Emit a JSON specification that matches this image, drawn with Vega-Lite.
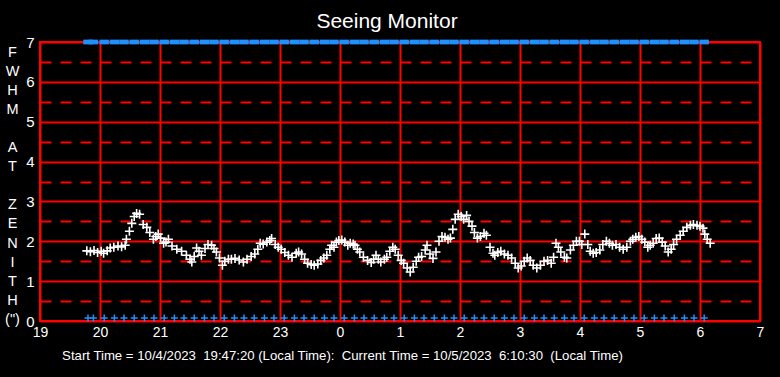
{
  "$schema": "https://vega.github.io/schema/vega-lite/v6.json",
  "width": 720,
  "height": 279,
  "autosize": {"type": "none"},
  "padding": {"left": 40, "top": 42, "right": 20, "bottom": 56},
  "background": "#000000",
  "config": {"view": {"stroke": "#ff0000", "strokeWidth": 2}, "font": "Liberation Sans"},
  "title": {"text": "Seeing Monitor", "color": "white", "fontSize": 21, "font": "Liberation Sans", "fontWeight": "normal", "anchor": "middle", "dx": -13, "dy": 30, "offset": 12, "baseline": "bottom"},
  "datasets": {
    "seeing": [
      {"t":19.78,"fwhm":1.76},{"t":19.84,"fwhm":1.74},{"t":19.90,"fwhm":1.77},{"t":19.96,"fwhm":1.72},{"t":20.02,"fwhm":1.75},
      {"t":20.06,"fwhm":1.70},{"t":20.12,"fwhm":1.76},{"t":20.17,"fwhm":1.83},{"t":20.23,"fwhm":1.85},{"t":20.30,"fwhm":1.88},
      {"t":20.36,"fwhm":1.86},{"t":20.42,"fwhm":1.90},{"t":20.44,"fwhm":2.05},{"t":20.49,"fwhm":2.25},{"t":20.53,"fwhm":2.45},
      {"t":20.57,"fwhm":2.62},{"t":20.61,"fwhm":2.70},{"t":20.66,"fwhm":2.68},{"t":20.72,"fwhm":2.42},{"t":20.78,"fwhm":2.35},
      {"t":20.83,"fwhm":2.22},{"t":20.89,"fwhm":2.05},{"t":20.93,"fwhm":2.12},{"t":20.97,"fwhm":2.18},{"t":21.01,"fwhm":2.08},
      {"t":21.06,"fwhm":1.95},{"t":21.10,"fwhm":1.98},{"t":21.14,"fwhm":2.05},{"t":21.20,"fwhm":1.88},{"t":21.28,"fwhm":1.80},
      {"t":21.36,"fwhm":1.75},{"t":21.44,"fwhm":1.65},{"t":21.50,"fwhm":1.55},{"t":21.53,"fwhm":1.48},{"t":21.57,"fwhm":1.62},
      {"t":21.61,"fwhm":1.83},{"t":21.65,"fwhm":1.75},{"t":21.69,"fwhm":1.65},{"t":21.75,"fwhm":1.82},{"t":21.80,"fwhm":1.92},
      {"t":21.86,"fwhm":1.90},{"t":21.90,"fwhm":1.82},{"t":21.94,"fwhm":1.73},{"t":21.99,"fwhm":1.58},{"t":22.04,"fwhm":1.40},
      {"t":22.08,"fwhm":1.50},{"t":22.14,"fwhm":1.55},{"t":22.19,"fwhm":1.55},{"t":22.25,"fwhm":1.57},{"t":22.32,"fwhm":1.53},
      {"t":22.39,"fwhm":1.48},{"t":22.45,"fwhm":1.55},{"t":22.52,"fwhm":1.62},{"t":22.58,"fwhm":1.68},{"t":22.63,"fwhm":1.80},
      {"t":22.67,"fwhm":1.95},{"t":22.72,"fwhm":1.93},{"t":22.78,"fwhm":1.98},{"t":22.83,"fwhm":2.02},{"t":22.86,"fwhm":2.07},
      {"t":22.92,"fwhm":1.92},{"t":22.97,"fwhm":1.85},{"t":23.02,"fwhm":1.80},{"t":23.08,"fwhm":1.72},{"t":23.14,"fwhm":1.65},
      {"t":23.20,"fwhm":1.60},{"t":23.27,"fwhm":1.70},{"t":23.31,"fwhm":1.73},{"t":23.36,"fwhm":1.68},{"t":23.41,"fwhm":1.55},
      {"t":23.46,"fwhm":1.45},{"t":23.52,"fwhm":1.42},{"t":23.57,"fwhm":1.40},{"t":23.63,"fwhm":1.43},{"t":23.68,"fwhm":1.52},
      {"t":23.73,"fwhm":1.58},{"t":23.78,"fwhm":1.65},{"t":23.83,"fwhm":1.80},{"t":23.86,"fwhm":1.90},{"t":23.90,"fwhm":1.85},
      {"t":23.94,"fwhm":1.98},{"t":23.98,"fwhm":2.02},{"t":24.03,"fwhm":2.03},{"t":24.08,"fwhm":1.98},{"t":24.13,"fwhm":1.90},
      {"t":24.17,"fwhm":1.95},{"t":24.22,"fwhm":1.93},{"t":24.25,"fwhm":1.90},{"t":24.29,"fwhm":1.80},{"t":24.33,"fwhm":1.73},
      {"t":24.39,"fwhm":1.60},{"t":24.46,"fwhm":1.52},{"t":24.52,"fwhm":1.47},{"t":24.56,"fwhm":1.55},{"t":24.60,"fwhm":1.65},
      {"t":24.64,"fwhm":1.55},{"t":24.68,"fwhm":1.48},{"t":24.74,"fwhm":1.55},{"t":24.78,"fwhm":1.60},{"t":24.83,"fwhm":1.75},
      {"t":24.88,"fwhm":1.85},{"t":24.92,"fwhm":1.80},{"t":24.97,"fwhm":1.65},{"t":25.02,"fwhm":1.52},{"t":25.06,"fwhm":1.45},
      {"t":25.12,"fwhm":1.33},{"t":25.17,"fwhm":1.23},{"t":25.22,"fwhm":1.35},{"t":25.27,"fwhm":1.50},{"t":25.31,"fwhm":1.60},
      {"t":25.36,"fwhm":1.62},{"t":25.42,"fwhm":1.78},{"t":25.45,"fwhm":1.90},{"t":25.50,"fwhm":1.68},{"t":25.55,"fwhm":1.57},
      {"t":25.60,"fwhm":1.73},{"t":25.65,"fwhm":2.00},{"t":25.70,"fwhm":2.12},{"t":25.75,"fwhm":2.10},{"t":25.80,"fwhm":2.05},
      {"t":25.84,"fwhm":2.08},{"t":25.88,"fwhm":2.30},{"t":25.92,"fwhm":2.55},{"t":25.97,"fwhm":2.68},{"t":26.02,"fwhm":2.62},
      {"t":26.06,"fwhm":2.55},{"t":26.11,"fwhm":2.65},{"t":26.15,"fwhm":2.50},{"t":26.20,"fwhm":2.38},{"t":26.24,"fwhm":2.22},
      {"t":26.29,"fwhm":2.08},{"t":26.34,"fwhm":2.12},{"t":26.40,"fwhm":2.20},{"t":26.44,"fwhm":2.15},{"t":26.50,"fwhm":1.85},
      {"t":26.55,"fwhm":1.70},{"t":26.58,"fwhm":1.65},{"t":26.63,"fwhm":1.72},{"t":26.68,"fwhm":1.75},{"t":26.74,"fwhm":1.68},
      {"t":26.80,"fwhm":1.65},{"t":26.86,"fwhm":1.58},{"t":26.92,"fwhm":1.45},{"t":26.97,"fwhm":1.33},{"t":27.02,"fwhm":1.38},
      {"t":27.07,"fwhm":1.50},{"t":27.12,"fwhm":1.58},{"t":27.17,"fwhm":1.52},{"t":27.22,"fwhm":1.40},{"t":27.28,"fwhm":1.33},
      {"t":27.34,"fwhm":1.40},{"t":27.40,"fwhm":1.50},{"t":27.46,"fwhm":1.52},{"t":27.52,"fwhm":1.45},{"t":27.56,"fwhm":1.60},
      {"t":27.60,"fwhm":1.95},{"t":27.64,"fwhm":1.85},{"t":27.68,"fwhm":1.73},{"t":27.74,"fwhm":1.60},{"t":27.78,"fwhm":1.58},
      {"t":27.84,"fwhm":1.78},{"t":27.89,"fwhm":1.90},{"t":27.94,"fwhm":2.00},{"t":27.99,"fwhm":2.00},{"t":28.03,"fwhm":1.92},
      {"t":28.08,"fwhm":2.18},{"t":28.13,"fwhm":1.92},{"t":28.17,"fwhm":1.75},{"t":28.22,"fwhm":1.70},{"t":28.27,"fwhm":1.72},
      {"t":28.33,"fwhm":1.78},{"t":28.38,"fwhm":1.92},{"t":28.44,"fwhm":2.00},{"t":28.49,"fwhm":1.95},{"t":28.54,"fwhm":1.90},
      {"t":28.60,"fwhm":1.92},{"t":28.66,"fwhm":1.85},{"t":28.72,"fwhm":1.80},{"t":28.78,"fwhm":1.85},{"t":28.84,"fwhm":2.00},
      {"t":28.88,"fwhm":2.05},{"t":28.93,"fwhm":2.10},{"t":28.98,"fwhm":2.12},{"t":29.03,"fwhm":2.05},{"t":29.08,"fwhm":1.98},
      {"t":29.13,"fwhm":1.85},{"t":29.17,"fwhm":1.90},{"t":29.22,"fwhm":1.95},{"t":29.27,"fwhm":2.07},{"t":29.32,"fwhm":2.08},
      {"t":29.37,"fwhm":1.98},{"t":29.42,"fwhm":1.88},{"t":29.47,"fwhm":1.73},{"t":29.52,"fwhm":1.80},{"t":29.56,"fwhm":1.92},
      {"t":29.61,"fwhm":2.05},{"t":29.67,"fwhm":2.15},{"t":29.72,"fwhm":2.25},{"t":29.78,"fwhm":2.35},{"t":29.84,"fwhm":2.40},
      {"t":29.89,"fwhm":2.42},{"t":29.95,"fwhm":2.40},{"t":30.00,"fwhm":2.38},{"t":30.05,"fwhm":2.33},{"t":30.08,"fwhm":2.18},
      {"t":30.12,"fwhm":2.05},{"t":30.17,"fwhm":1.95}
    ],
    "samples": [
      {"t":19.80},{"t":19.89},
      {"t":20.07},{"t":20.24},{"t":20.40},{"t":20.57},{"t":20.74},{"t":20.90},
      {"t":21.07},{"t":21.24},{"t":21.40},{"t":21.57},{"t":21.74},{"t":21.90},
      {"t":22.07},{"t":22.24},{"t":22.40},{"t":22.57},{"t":22.74},{"t":22.90},
      {"t":23.07},{"t":23.24},{"t":23.40},{"t":23.57},{"t":23.74},{"t":23.90},
      {"t":24.07},{"t":24.24},{"t":24.40},{"t":24.57},{"t":24.74},{"t":24.90},
      {"t":25.07},{"t":25.24},{"t":25.40},{"t":25.57},{"t":25.74},{"t":25.90},
      {"t":26.07},{"t":26.24},{"t":26.40},{"t":26.57},{"t":26.74},{"t":26.90},
      {"t":27.07},{"t":27.24},{"t":27.40},{"t":27.57},{"t":27.74},{"t":27.90},
      {"t":28.07},{"t":28.24},{"t":28.40},{"t":28.57},{"t":28.74},{"t":28.90},
      {"t":29.07},{"t":29.24},{"t":29.40},{"t":29.57},{"t":29.74},{"t":29.90},
      {"t":30.07}
    ]
  },
  "encoding": {
    "x": {
      "field": "t", "type": "quantitative",
      "scale": {"domain": [19, 31], "nice": false, "zero": false},
      "axis": {
        "values": [19,20,21,22,23,24,25,26,27,28,29,30,31],
        "labelExpr": "'' + (datum.value % 24)",
        "labelColor": "#ffffff", "labelFontSize": 14, "labelFont": "Liberation Sans",
        "labelOverlap": false, "labelFlush": false, "labelPadding": 4,
        "ticks": false, "domain": false,
        "grid": true, "gridColor": "#ff0000", "gridWidth": 2, "gridOpacity": 1,
        "title": "Start Time = 10/4/2023\u00a0 19:47:20 (Local Time):\u00a0 Current Time = 10/5/2023\u00a0 6:10:30\u00a0 (Local Time)",
        "titleColor": "#ffffff", "titleFontSize": 13.2, "titleFontWeight": "normal", "titleFont": "Liberation Sans",
        "titleX": 302, "titleY": 34, "titleBaseline": "middle", "titleAlign": "center"
      }
    },
    "y": {
      "type": "quantitative",
      "scale": {"domain": [0, 7], "nice": false, "zero": true},
      "axis": {
        "values": [0,0.5,1,1.5,2,2.5,3,3.5,4,4.5,5,5.5,6,6.5,7],
        "labelExpr": "datum.value % 1 ? '' : '' + datum.value",
        "labelColor": "#ffffff", "labelFontSize": 15, "labelFont": "Liberation Sans",
        "labelOverlap": false, "labelFlush": false, "labelPadding": 6,
        "ticks": false, "domain": false,
        "grid": true, "gridColor": "#ff0000", "gridWidth": 2, "gridOpacity": 1,
        "gridDash": {"condition": {"test": "datum.value % 1 !== 0", "value": [11, 9]}, "value": [1, 0]},
        "title": ["F","W","H","M","\u200b","A","T","\u200b","Z","E","N","I","T","H","(\")"],
        "titleAngle": 0, "titleX": -28, "titleY": 3, "titleBaseline": "top", "titleAlign": "center",
        "titleLineHeight": 19.1, "titleFontSize": 14.5, "titleFontWeight": "normal", "titleColor": "#ffffff", "titleFont": "Liberation Sans"
      }
    }
  },
  "layer": [
    {
      "data": {"name": "seeing"},
      "mark": {"type": "point", "shape": "M-1,0L1,0M0,-1L0,1", "filled": false, "stroke": "#ffffff", "strokeWidth": 1.6, "size": 81, "opacity": 1},
      "encoding": {"y": {"field": "fwhm"}}
    },
    {
      "data": {"name": "samples"},
      "mark": {"type": "point", "shape": "M-1,0L1,0M0,-1L0,1", "filled": false, "stroke": "#1e90ff", "strokeWidth": 1.5, "size": 49, "opacity": 1, "yOffset": -3},
      "encoding": {"y": {"datum": 0}}
    },
    {
      "data": {"name": "samples"},
      "mark": {"type": "point", "shape": "M-1,-0.5L1,-0.5L1,0.5L-1,0.5Z", "filled": true, "fill": "#1e90ff", "strokeWidth": 0, "size": 90, "opacity": 1},
      "encoding": {"y": {"datum": 7}}
    }
  ]
}
